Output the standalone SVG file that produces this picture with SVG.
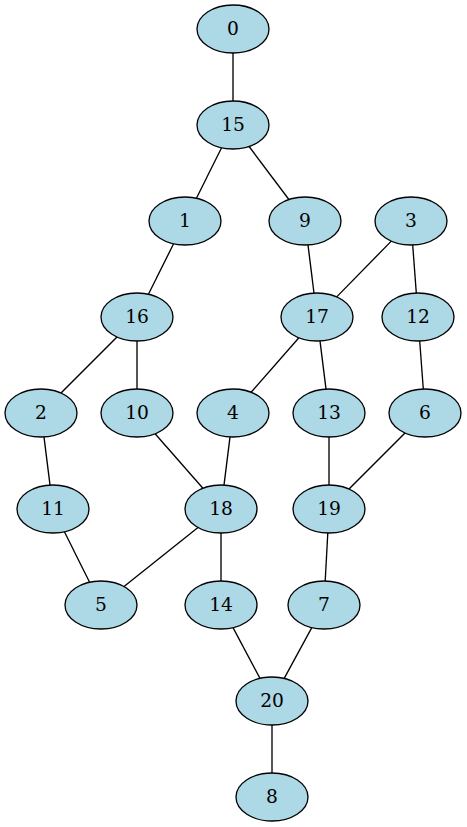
<svg xmlns="http://www.w3.org/2000/svg" width="467" height="827" viewBox="0 0 467 827">
<style>
.node ellipse{fill:#add8e6;stroke:#000;stroke-width:1.33}
.node text{font-family:"DejaVu Serif",serif;font-size:18.67px;text-anchor:middle;fill:#000}
#edges line{stroke:#000;stroke-width:1.33}
</style>
<rect width="467" height="827" fill="#fff"/>
<g id="edges">
<line x1="233" y1="53" x2="233" y2="101"/>
<line x1="221.6" y1="147.8" x2="196.4" y2="198.2"/>
<line x1="249.1" y1="146.5" x2="288.9" y2="199.5"/>
<line x1="173.6" y1="243.8" x2="148.4" y2="294.2"/>
<line x1="308" y1="244.9" x2="314" y2="293.1"/>
<line x1="391.3" y1="241.1" x2="336.7" y2="296.9"/>
<line x1="412.7" y1="245" x2="416.3" y2="293"/>
<line x1="117" y1="337" x2="61" y2="393"/>
<line x1="137" y1="341" x2="137" y2="389"/>
<line x1="298.9" y1="337.7" x2="251.1" y2="392.3"/>
<line x1="320" y1="340.9" x2="326" y2="389.1"/>
<line x1="419.7" y1="341" x2="423.3" y2="389"/>
<line x1="44" y1="436.9" x2="50" y2="485.1"/>
<line x1="155.1" y1="433.7" x2="202.9" y2="488.3"/>
<line x1="230" y1="436.9" x2="224" y2="485.1"/>
<line x1="329" y1="437" x2="329" y2="485"/>
<line x1="405" y1="433" x2="349" y2="489"/>
<line x1="64.4" y1="531.8" x2="89.6" y2="582.2"/>
<line x1="198" y1="527.4" x2="124" y2="586.6"/>
<line x1="221" y1="533" x2="221" y2="581"/>
<line x1="327.8" y1="533" x2="325.2" y2="581"/>
<line x1="233" y1="627.6" x2="260" y2="678.4"/>
<line x1="311.8" y1="627.6" x2="284.2" y2="678.4"/>
<line x1="272" y1="725" x2="272" y2="773"/>
</g>
<g id="n0" class="node"><ellipse cx="233" cy="29" rx="36" ry="24"/><text x="233" y="35">0</text></g>
<g id="n15" class="node"><ellipse cx="233" cy="125" rx="36" ry="24"/><text x="233" y="131">15</text></g>
<g id="n1" class="node"><ellipse cx="185" cy="221" rx="36" ry="24"/><text x="185" y="227">1</text></g>
<g id="n9" class="node"><ellipse cx="305" cy="221" rx="36" ry="24"/><text x="305" y="227">9</text></g>
<g id="n3" class="node"><ellipse cx="411" cy="221" rx="36" ry="24"/><text x="411" y="227">3</text></g>
<g id="n16" class="node"><ellipse cx="137" cy="317" rx="36" ry="24"/><text x="137" y="323">16</text></g>
<g id="n17" class="node"><ellipse cx="317" cy="317" rx="36" ry="24"/><text x="317" y="323">17</text></g>
<g id="n12" class="node"><ellipse cx="418" cy="317" rx="36" ry="24"/><text x="418" y="323">12</text></g>
<g id="n2" class="node"><ellipse cx="41" cy="413" rx="36" ry="24"/><text x="41" y="419">2</text></g>
<g id="n10" class="node"><ellipse cx="137" cy="413" rx="36" ry="24"/><text x="137" y="419">10</text></g>
<g id="n4" class="node"><ellipse cx="233" cy="413" rx="36" ry="24"/><text x="233" y="419">4</text></g>
<g id="n13" class="node"><ellipse cx="329" cy="413" rx="36" ry="24"/><text x="329" y="419">13</text></g>
<g id="n6" class="node"><ellipse cx="425" cy="413" rx="36" ry="24"/><text x="425" y="419">6</text></g>
<g id="n11" class="node"><ellipse cx="53" cy="509" rx="36" ry="24"/><text x="53" y="515">11</text></g>
<g id="n18" class="node"><ellipse cx="221" cy="509" rx="36" ry="24"/><text x="221" y="515">18</text></g>
<g id="n19" class="node"><ellipse cx="329" cy="509" rx="36" ry="24"/><text x="329" y="515">19</text></g>
<g id="n5" class="node"><ellipse cx="101" cy="605" rx="36" ry="24"/><text x="101" y="611">5</text></g>
<g id="n14" class="node"><ellipse cx="221" cy="605" rx="36" ry="24"/><text x="221" y="611">14</text></g>
<g id="n7" class="node"><ellipse cx="324" cy="605" rx="36" ry="24"/><text x="324" y="611">7</text></g>
<g id="n20" class="node"><ellipse cx="272" cy="701" rx="36" ry="24"/><text x="272" y="707">20</text></g>
<g id="n8" class="node"><ellipse cx="272" cy="797" rx="36" ry="24"/><text x="272" y="803">8</text></g>
</svg>
